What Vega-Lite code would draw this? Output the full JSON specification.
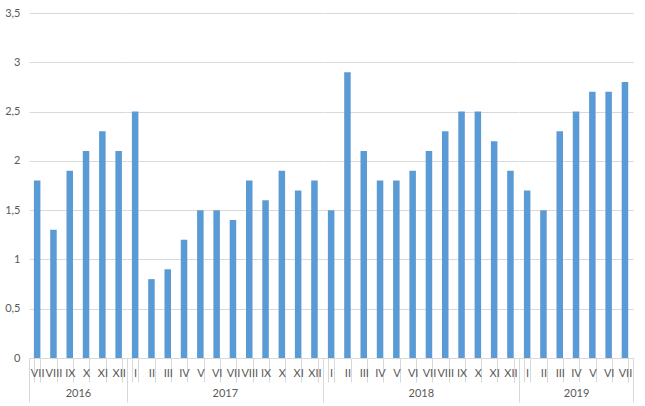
{
  "$schema": "https://vega.github.io/schema/vega-lite/v6.json",
  "background": "white",
  "padding": {"left": 4, "top": 7, "right": 10, "bottom": 3},
  "spacing": 0,
  "bounds": "flush",
  "data": {"values": [
    {"y": "2016", "m": "VII", "v": 1.8}, {"y": "2016", "m": "VIII", "v": 1.3}, {"y": "2016", "m": "IX", "v": 1.9},
    {"y": "2016", "m": "X", "v": 2.1}, {"y": "2016", "m": "XI", "v": 2.3}, {"y": "2016", "m": "XII", "v": 2.1},
    {"y": "2017", "m": "I", "v": 2.5}, {"y": "2017", "m": "II", "v": 0.8}, {"y": "2017", "m": "III", "v": 0.9},
    {"y": "2017", "m": "IV", "v": 1.2}, {"y": "2017", "m": "V", "v": 1.5}, {"y": "2017", "m": "VI", "v": 1.5},
    {"y": "2017", "m": "VII", "v": 1.4}, {"y": "2017", "m": "VIII", "v": 1.8}, {"y": "2017", "m": "IX", "v": 1.6},
    {"y": "2017", "m": "X", "v": 1.9}, {"y": "2017", "m": "XI", "v": 1.7}, {"y": "2017", "m": "XII", "v": 1.8},
    {"y": "2018", "m": "I", "v": 1.5}, {"y": "2018", "m": "II", "v": 2.9}, {"y": "2018", "m": "III", "v": 2.1},
    {"y": "2018", "m": "IV", "v": 1.8}, {"y": "2018", "m": "V", "v": 1.8}, {"y": "2018", "m": "VI", "v": 1.9},
    {"y": "2018", "m": "VII", "v": 2.1}, {"y": "2018", "m": "VIII", "v": 2.3}, {"y": "2018", "m": "IX", "v": 2.5},
    {"y": "2018", "m": "X", "v": 2.5}, {"y": "2018", "m": "XI", "v": 2.2}, {"y": "2018", "m": "XII", "v": 1.9},
    {"y": "2019", "m": "I", "v": 1.7}, {"y": "2019", "m": "II", "v": 1.5}, {"y": "2019", "m": "III", "v": 2.3},
    {"y": "2019", "m": "IV", "v": 2.5}, {"y": "2019", "m": "V", "v": 2.7}, {"y": "2019", "m": "VI", "v": 2.7},
    {"y": "2019", "m": "VII", "v": 2.8}
  ]},
  "hconcat": [
    {
      "width": 97.8, "height": 345,
      "transform": [{"filter": "datum.y == '2016'"}],
      "resolve": {"scale": {"x": "independent"}, "axis": {"x": "independent"}},
      "layer": [
        {
          "mark": {"type": "bar", "color": "#5B9BD5"},
          "encoding": {
            "x": {"field": "m", "type": "ordinal", "sort": null,
                  "scale": {"paddingInner": 0.6, "paddingOuter": 0.3},
                  "axis": {"title": null, "orient": "bottom", "tickBand": "extent", "tickSize": 24, "labelPadding": -15}},
            "y": {"field": "v", "type": "quantitative", "scale": {"domain": [0, 3.5]},
                  "axis": {"title": null, "values": [0, 0.5, 1, 1.5, 2, 2.5, 3, 3.5], "labelExpr": "replace(toString(datum.value), '.', ',')"}}
          }
        },
        {
          "mark": {"type": "point", "opacity": 0},
          "encoding": {
            "x": {"field": "y", "type": "ordinal",
                  "axis": {"title": null, "orient": "bottom", "tickBand": "extent", "tickSize": 44, "labelPadding": -15, "domain": false}},
            "y": {"field": "v", "type": "quantitative"}
          }
        }
      ]
    },
    {
      "width": 195.6, "height": 345,
      "transform": [{"filter": "datum.y == '2017'"}],
      "resolve": {"scale": {"x": "independent"}, "axis": {"x": "independent"}},
      "layer": [
        {
          "mark": {"type": "bar", "color": "#5B9BD5"},
          "encoding": {
            "x": {"field": "m", "type": "ordinal", "sort": null,
                  "scale": {"paddingInner": 0.6, "paddingOuter": 0.3},
                  "axis": {"title": null, "orient": "bottom", "tickBand": "extent", "tickSize": 24, "labelPadding": -15}},
            "y": {"field": "v", "type": "quantitative", "scale": {"domain": [0, 3.5]},
                  "axis": {"title": null, "values": [0, 0.5, 1, 1.5, 2, 2.5, 3, 3.5], "labels": false}}
          }
        },
        {
          "mark": {"type": "point", "opacity": 0},
          "encoding": {
            "x": {"field": "y", "type": "ordinal",
                  "axis": {"title": null, "orient": "bottom", "tickBand": "extent", "tickSize": 44, "labelPadding": -15, "domain": false}},
            "y": {"field": "v", "type": "quantitative"}
          }
        }
      ]
    },
    {
      "width": 195.6, "height": 345,
      "transform": [{"filter": "datum.y == '2018'"}],
      "resolve": {"scale": {"x": "independent"}, "axis": {"x": "independent"}},
      "layer": [
        {
          "mark": {"type": "bar", "color": "#5B9BD5"},
          "encoding": {
            "x": {"field": "m", "type": "ordinal", "sort": null,
                  "scale": {"paddingInner": 0.6, "paddingOuter": 0.3},
                  "axis": {"title": null, "orient": "bottom", "tickBand": "extent", "tickSize": 24, "labelPadding": -15}},
            "y": {"field": "v", "type": "quantitative", "scale": {"domain": [0, 3.5]},
                  "axis": {"title": null, "values": [0, 0.5, 1, 1.5, 2, 2.5, 3, 3.5], "labels": false}}
          }
        },
        {
          "mark": {"type": "point", "opacity": 0},
          "encoding": {
            "x": {"field": "y", "type": "ordinal",
                  "axis": {"title": null, "orient": "bottom", "tickBand": "extent", "tickSize": 44, "labelPadding": -15, "domain": false}},
            "y": {"field": "v", "type": "quantitative"}
          }
        }
      ]
    },
    {
      "width": 114.1, "height": 345,
      "transform": [{"filter": "datum.y == '2019'"}],
      "resolve": {"scale": {"x": "independent"}, "axis": {"x": "independent"}},
      "layer": [
        {
          "mark": {"type": "bar", "color": "#5B9BD5"},
          "encoding": {
            "x": {"field": "m", "type": "ordinal", "sort": null,
                  "scale": {"paddingInner": 0.6, "paddingOuter": 0.3},
                  "axis": {"title": null, "orient": "bottom", "tickBand": "extent", "tickSize": 24, "labelPadding": -15}},
            "y": {"field": "v", "type": "quantitative", "scale": {"domain": [0, 3.5]},
                  "axis": {"title": null, "values": [0, 0.5, 1, 1.5, 2, 2.5, 3, 3.5], "labels": false}}
          }
        },
        {
          "mark": {"type": "point", "opacity": 0},
          "encoding": {
            "x": {"field": "y", "type": "ordinal",
                  "axis": {"title": null, "orient": "bottom", "tickBand": "extent", "tickSize": 44, "labelPadding": -15, "domain": false}},
            "y": {"field": "v", "type": "quantitative"}
          }
        }
      ]
    }
  ],
  "config": {
    "font": "Lato",
    "view": {"stroke": null},
    "axisX": {
      "tickColor": "#d9d9d9", "domainColor": "#d9d9d9",
      "labelAngle": 0, "labelColor": "#595959", "labelFontSize": 11,
      "labelOverlap": false, "labelFlush": false, "grid": false
    },
    "axisY": {
      "domain": false, "ticks": false, "gridColor": "#d9d9d9", "labelColor": "#595959",
      "labelFontSize": 11, "labelPadding": 9
    }
  }
}
